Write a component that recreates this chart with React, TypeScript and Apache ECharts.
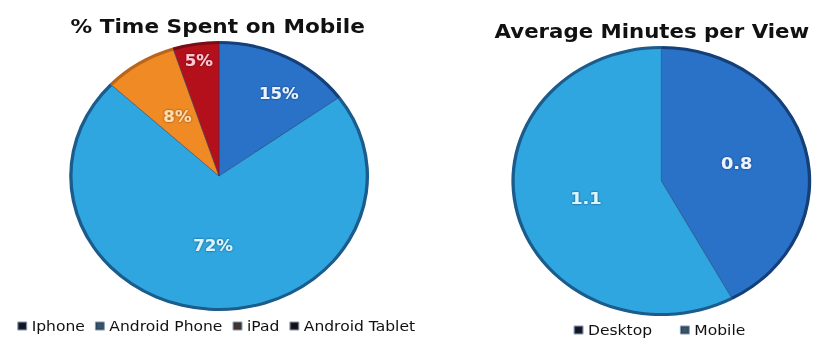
import React, { useEffect, useRef } from "react";
import * as echarts from "echarts";

// ---- data ----
const mobileCategories = ["Iphone", "Android Phone", "iPad", "Android Tablet"];
const mobileShare = [15, 72, 8, 5];
const viewCategories = ["Desktop", "Mobile"];
const viewMinutes = [0.8, 1.1];
const leftTitle = "% Time Spent on Mobile";
const rightTitle = "Average Minutes per View";

// ---- styles ----
const SX = 1.1105; // horizontal stretch of the reference picture
const W = Math.round(814 / SX);
const mobileColors = ["#2a72c8", "#2fa6df", "#f08a24", "#b4101c"];
const mobileRing = ["#143f78", "#1b5c8c", "#b9661c", "#7a0c14"];
const mobileLabelColors = ["#eaf3ff", "#dcf5ff", "#ffdcae", "#ffc9d2"];
// label nudges: horizontal via padding, vertical via blank trailing lines
const mobilePadding = [
  [0, 0, 0, 44],
  [0, 2, 0, 0],
  [0, 0, 0, 0],
  [0, 0, 0, 0],
];
const mobileLift = [3, 0, 0, 0];
// which labels sit on the inner ring (true) or the outer band (false)
const mobileInnerLabel = [true, true, true, false];
const mobileLegendIcons = ["#151520", "#3b5566", "#4a3322", "#1a0c0c"];
const viewColors = ["#2a72c8", "#2fa6df"];
const viewRing = ["#143f78", "#1b5c8c"];
const viewLabelColors = ["#eaf3ff", "#dcf5ff"];
const viewLegendIcons = ["#151520", "#3b5566"];

export default function App() {
  const ref = useRef<HTMLDivElement>(null);
  useEffect(() => {
    if (!ref.current) return;
    const chart = echarts.init(ref.current, undefined, { renderer: "svg" });
    const font = "DejaVu Sans";
    const leftCenter = [197.3, 176];
    const rightCenter = [595.5, 181];
    const R = 134;
    const labelBase = {
      fontFamily: font,
      fontWeight: "bold",
      fontSize: 15,
      lineHeight: 13,
      textShadowColor: "rgba(0,0,30,0.55)",
      textShadowBlur: 2,
    };
    chart.setOption({
      animation: false,
      backgroundColor: "#ffffff",
      title: [
        {
          text: leftTitle,
          left: 191,
          top: 11,
          textAlign: "center",
          textStyle: { fontFamily: font, fontWeight: "bold", fontSize: 19.5, color: "#111" },
        },
        {
          text: rightTitle,
          left: 582,
          top: 17,
          textAlign: "center",
          textStyle: { fontFamily: font, fontWeight: "bold", fontSize: 19.2, color: "#111" },
        },
      ],
      legend: [
        {
          data: mobileCategories.map((n, i) => ({ name: n, itemStyle: { color: mobileLegendIcons[i] } })),
          left: 10.5,
          top: 314,
          icon: "rect",
          itemWidth: 7,
          itemHeight: 7,
          itemGap: 9,
          selectedMode: false,
          textStyle: { fontFamily: font, fontSize: 14, color: "#111" },
        },
        {
          data: viewCategories.map((n, i) => ({ name: n, itemStyle: { color: viewLegendIcons[i] } })),
          left: 511.5,
          top: 318,
          icon: "rect",
          itemWidth: 7,
          itemHeight: 7,
          itemGap: 25,
          selectedMode: false,
          textStyle: { fontFamily: font, fontSize: 14, color: "#111" },
        },
      ],
      series: [
        {
          type: "pie",
          center: leftCenter,
          radius: [0, R],
          startAngle: 90,
          clockwise: true,
          avoidLabelOverlap: false,
          labelLine: { show: false },
          itemStyle: { borderColor: "rgba(20,50,90,0.5)", borderWidth: 0.8 },
          label: {
            ...labelBase,
            show: true,
            position: "inside",
            formatter: (p: any) => p.value + "%" + "\n".repeat(mobileLift[p.dataIndex]),
          },
          data: mobileCategories.map((n, i) => ({
            name: n,
            value: mobileShare[i],
            itemStyle: { color: mobileColors[i] },
            label: { show: mobileInnerLabel[i], color: mobileLabelColors[i], padding: mobilePadding[i] },
          })),
        },
        {
          // outer band: labels placed nearer the edge
          type: "pie",
          center: leftCenter,
          radius: [92, R + 1],
          startAngle: 90,
          clockwise: true,
          silent: true,
          avoidLabelOverlap: false,
          labelLine: { show: false },
          label: { ...labelBase, show: true, position: "inside", formatter: "{c}%" },
          data: mobileShare.map((v, i) => ({
            name: mobileCategories[i],
            value: v,
            itemStyle: { color: "rgba(0,0,0,0)" },
            label: { show: !mobileInnerLabel[i], color: mobileLabelColors[i] },
          })),
        },
        {
          type: "pie",
          center: leftCenter,
          radius: [R - 2, R + 1],
          startAngle: 90,
          clockwise: true,
          silent: true,
          label: { show: false },
          labelLine: { show: false },
          data: mobileShare.map((v, i) => ({ name: "", value: v, itemStyle: { color: mobileRing[i] } })),
        },
        {
          type: "pie",
          center: rightCenter,
          radius: [0, R],
          startAngle: 90,
          clockwise: true,
          avoidLabelOverlap: false,
          labelLine: { show: false },
          itemStyle: { borderColor: "rgba(20,50,90,0.5)", borderWidth: 0.8 },
          label: {
            ...labelBase,
            show: true,
            position: "inside",
            formatter: "{c}",
            fontSize: 16,
          },
          data: viewCategories.map((n, i) => ({
            name: n,
            value: viewMinutes[i],
            itemStyle: { color: viewColors[i] },
            label: { color: viewLabelColors[i] },
          })),
        },
        {
          type: "pie",
          center: rightCenter,
          radius: [R - 2, R + 1],
          startAngle: 90,
          clockwise: true,
          silent: true,
          label: { show: false },
          labelLine: { show: false },
          data: viewMinutes.map((v, i) => ({ name: " ", value: v, itemStyle: { color: viewRing[i] } })),
        },
      ],
    });
    return () => chart.dispose();
  }, []);
  return (
    <div
      style={{
        position: "fixed",
        left: 0,
        top: 0,
        width: 814,
        height: 340,
        overflow: "hidden",
        background: "#fff",
      }}
    >
      <div
        ref={ref}
        style={{
          width: W,
          height: 340,
          transform: `scaleX(${SX})`,
          transformOrigin: "0 0",
        }}
      />
    </div>
  );
}
